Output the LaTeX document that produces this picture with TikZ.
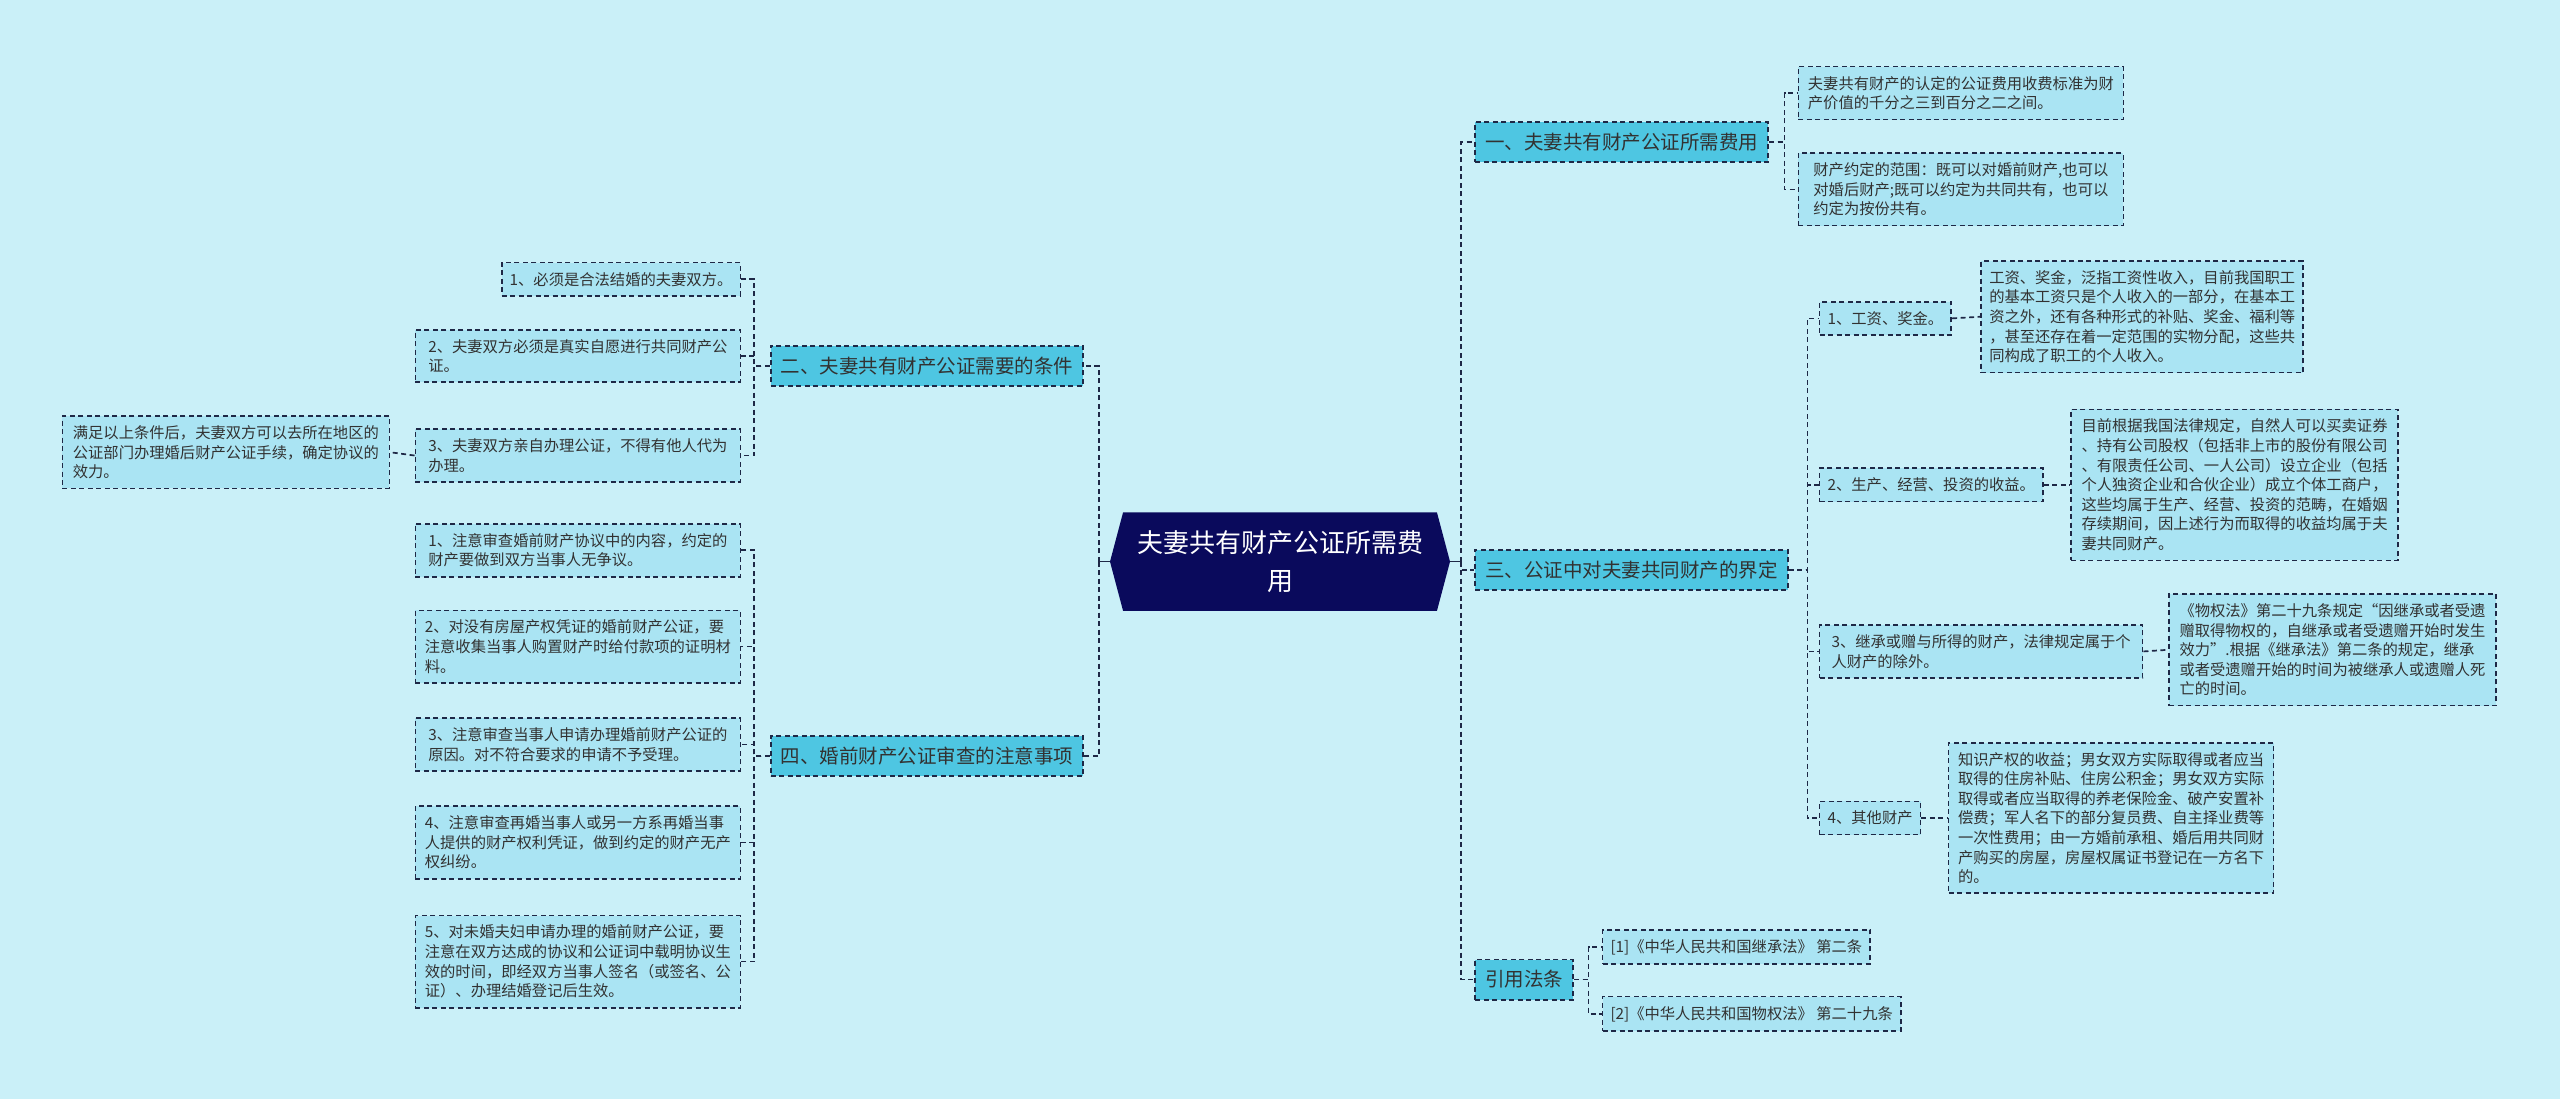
\documentclass[tikz,border=0pt]{standalone}
\usepackage{fontspec}
\setmainfont{Noto Sans CJK SC}
\usetikzlibrary{backgrounds,calc}
\definecolor{bgc}{RGB}{202,240,248}
\definecolor{l1c}{RGB}{78,198,226}
\definecolor{l2c}{RGB}{170,228,243}
\definecolor{bd}{RGB}{30,40,70}
\definecolor{txt}{RGB}{50,50,50}
\definecolor{rootc}{RGB}{10,10,92}
\begin{document}
\begin{tikzpicture}[x=1.6327pt,y=-1.6327pt,
  dsh/.style={dash pattern=on 5pt off 3.5pt},
  lone/.style={draw=bd,dsh,line width=1.8pt,fill=l1c,text=txt,
    font=\fontsize{19.5}{24}\selectfont,inner xsep=10pt,inner ysep=11pt},
  ltwo/.style={draw=bd,dsh,line width=1.7pt,fill=l2c,text=txt,
    font=\fontsize{15.3}{19.6}\selectfont,inner xsep=8pt,inner ysep=9.5pt,align=left},
  wide/.style={minimum width=325pt},
  conn/.style={draw=bd,dsh,line width=1.7pt},
  solidconn/.style={draw=bd,line width=1.7pt},
  rootstyle/.style={text=white,font=\fontsize{26}{37.5}\selectfont,align=center,
    minimum width=313.5pt,minimum height=98pt,inner sep=0pt}]
\useasboundingbox (0,0) rectangle (1568,673);

% spine coordinates
\coordinate (sR) at (895,0);
\coordinate (sL) at (673,0);
\coordinate (sA) at (1093,0);
\coordinate (sC) at (1107,0);
\coordinate (sD) at (973,0);
\coordinate (sB) at (462,0);
\coordinate (sE) at (462,0);

% root
\node[rootstyle] (root) at (784,344) {夫妻共有财产公证所需费\\用};
\coordinate (rootL) at ($(root.west)+(-8,0)$);
\coordinate (rootR) at ($(root.east)+(8,0)$);
\coordinate (jR) at (rootR -| sR);
\coordinate (jL) at (rootL -| sL);

% level 1
\node[lone,anchor=west] (L1a) at (903,87) {一、夫妻共有财产公证所需费用};
\node[lone,anchor=west] (L1c) at (903,349) {三、公证中对夫妻共同财产的界定};
\node[lone,anchor=west] (L1d) at (903,600) {引用法条};
\node[lone,anchor=east] (L1b) at (664,224) {二、夫妻共有财产公证需要的条件};
\node[lone,anchor=east] (L1e) at (664,463) {四、婚前财产公证审查的注意事项};

% level 2 under 一
\node[ltwo,wide,anchor=west] (A1) at (1101,57) {夫妻共有财产的认定的公证费用收费标准为财\\产价值的千分之三到百分之二之间。};
\node[ltwo,wide,anchor=west] (A2) at (1101,116) {财产约定的范围：既可以对婚前财产,也可以\\对婚后财产;既可以约定为共同共有，也可以\\约定为按份共有。};

% level 2 under 三
\node[ltwo,anchor=west] (C1) at (1114,195) {1、工资、奖金。};
\node[ltwo,anchor=west] (C2) at (1114,297) {2、生产、经营、投资的收益。};
\node[ltwo,minimum width=323pt,anchor=west] (C3) at (1114,399) {3、继承或赠与所得的财产，法律规定属于个\\人财产的除外。};
\node[ltwo,anchor=west] (C4) at (1114,501) {4、其他财产};

\node[ltwo,minimum width=322pt,anchor=west] (C1a) at (1213,194) {工资、奖金，泛指工资性收入，目前我国职工\\的基本工资只是个人收入的一部分，在基本工\\资之外，还有各种形式的补贴、奖金、福利等\\，甚至还存在着一定范围的实物分配，这些共\\同构成了职工的个人收入。};
\node[ltwo,minimum width=327pt,anchor=west] (C2a) at (1268,297) {目前根据我国法律规定，自然人可以买卖证券\\、持有公司股权（包括非上市的股份有限公司\\、有限责任公司、一人公司）设立企业（包括\\个人独资企业和合伙企业）成立个体工商户，\\这些均属于生产、经营、投资的范畴，在婚姻\\存续期间，因上述行为而取得的收益均属于夫\\妻共同财产。};
\node[ltwo,minimum width=327pt,anchor=west] (C3a) at (1328,398) {《物权法》第二十九条规定“因继承或者受遗\\赠取得物权的，自继承或者受遗赠开始时发生\\效力”.根据《继承法》第二条的规定，继承\\或者受遗赠开始的时间为被继承人或遗赠人死\\亡的时间。};
\node[ltwo,wide,anchor=west] (C4a) at (1193,501) {知识产权的收益；男女双方实际取得或者应当\\取得的住房补贴、住房公积金；男女双方实际\\取得或者应当取得的养老保险金、破产安置补\\偿费；军人名下的部分复员费、自主择业费等\\一次性费用；由一方婚前承租、婚后用共同财\\产购买的房屋，房屋权属证书登记在一方名下\\的。};

% level 2 under 引用法条
\node[ltwo,anchor=west] (D1) at (981,580) {[1]《中华人民共和国继承法》 第二条};
\node[ltwo,anchor=west] (D2) at (981,621) {[2]《中华人民共和国物权法》 第二十九条};

% level 2 under 二
\node[ltwo,anchor=east] (B1) at (454,171) {1、必须是合法结婚的夫妻双方。};
\node[ltwo,wide,anchor=east] (B2) at (454,218) {2、夫妻双方必须是真实自愿进行共同财产公\\证。};
\node[ltwo,wide,anchor=east] (B3) at (454,279) {3、夫妻双方亲自办理公证，不得有他人代为\\办理。};
\node[ltwo,minimum width=327pt,anchor=east] (B3a) at (239,277) {满足以上条件后，夫妻双方可以去所在地区的\\公证部门办理婚后财产公证手续，确定协议的\\效力。};

% level 2 under 四
\node[ltwo,wide,anchor=east] (E1) at (454,337) {1、注意审查婚前财产协议中的内容，约定的\\财产要做到双方当事人无争议。};
\node[ltwo,wide,anchor=east] (E2) at (454,396) {2、对没有房屋产权凭证的婚前财产公证，要\\注意收集当事人购置财产时给付款项的证明材\\料。};
\node[ltwo,wide,anchor=east] (E3) at (454,456) {3、注意审查当事人申请办理婚前财产公证的\\原因。对不符合要求的申请不予受理。};
\node[ltwo,wide,anchor=east] (E4) at (454,516) {4、注意审查再婚当事人或另一方系再婚当事\\人提供的财产权利凭证，做到约定的财产无产\\权纠纷。};
\node[ltwo,wide,anchor=east] (E5) at (454,589) {5、对未婚夫妇申请办理的婚前财产公证，要\\注意在双方达成的协议和公证词中载明协议生\\效的时间，即经双方当事人签名（或签名、公\\证）、办理结婚登记后生效。};

% connectors: root
\draw[solidconn] (rootR) -- (jR);
\draw[solidconn] (rootL) -- (jL);
\foreach \n in {L1a,L1c,L1d}
  \draw[conn] (jR) |- (\n.west);
\foreach \n in {L1b,L1e}
  \draw[conn] (jL) |- (\n.east);
% 一
\foreach \n in {A1,A2}
  \draw[conn] (L1a.east) -- (L1a.east -| sA) |- (\n.west);
% 三
\foreach \n in {C1,C2,C3,C4}
  \draw[conn] (L1c.east) -- (L1c.east -| sC) |- (\n.west);
\draw[conn] (C1.east) -- (C1a.west);
\draw[conn] (C2.east) -- (C2a.west);
\draw[conn] (C3.east) -- (C3a.west);
\draw[conn] (C4.east) -- (C4a.west);
% 引用法条
\foreach \n in {D1,D2}
  \draw[conn] (L1d.east) -- (L1d.east -| sD) |- (\n.west);
% 二
\foreach \n in {B1,B2,B3}
  \draw[conn] (L1b.west) -- (L1b.west -| sB) |- (\n.east);
\draw[conn] (B3.west) -- (B3a.east);
% 四
\foreach \n in {E1,E2,E3,E4,E5}
  \draw[conn] (L1e.west) -- (L1e.west -| sE) |- (\n.east);

\begin{scope}[on background layer]
  \fill[bgc] (0,0) rectangle (1568,673);
  \fill[rootc] (root.north west) -- (root.north east) -- (rootR) -- (root.south east)
    -- (root.south west) -- (rootL) -- cycle;
\end{scope}
\end{tikzpicture}
\end{document}
